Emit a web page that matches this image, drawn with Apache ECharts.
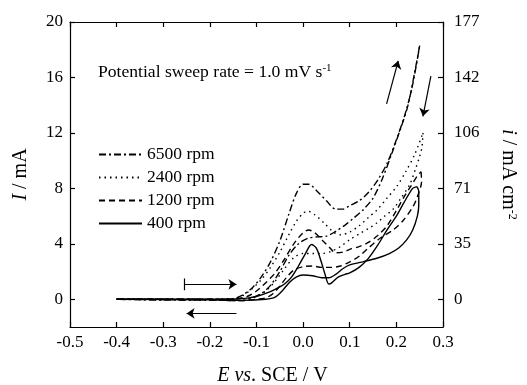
<!DOCTYPE html>
<html>
<head>
<meta charset="utf-8">
<script src="https://cdn.jsdelivr.net/npm/echarts@6/dist/echarts.min.js"></script>
<style>html,body{margin:0;padding:0;background:#fff}#c{width:527px;height:385px}</style>
</head>
<body>
<div id="c"></div>
<script>
// ---- data (E vs SCE / V, I / mA) ----
const rpmNames = ['6500 rpm', '2400 rpm', '1200 rpm', '400 rpm'];
const xTickLabelsRange = [-0.5, 0.3];
const leftTicks = [0, 4, 8, 12, 16, 20];
const leftTickLabels = ['0', '4', '8', '12', '16', '20'];
const rightTickLabels = ['0', '35', '71', '106', '142', '177'];

const fwd6500 = [[-0.40,0],[-0.20,0],[-0.15,0.05],[-0.13,0.3],[-0.11,0.8],[-0.09,1.6],[-0.07,2.7],[-0.05,4.2],[-0.03,6.2],[-0.015,7.6],[0.0,8.3],[0.012,8.3],[0.03,7.8],[0.05,7.1],[0.07,6.5],[0.085,6.5],[0.1,6.75],[0.12,7.1],[0.14,7.7],[0.16,8.6],[0.18,9.8],[0.2,11.5],[0.22,13.5],[0.235,15.5],[0.25,18.3]];
const bwd6500 = [[0.25,18.3],[0.24,16.5],[0.225,14.0],[0.21,12.4],[0.19,10.5],[0.17,8.7],[0.15,7.3],[0.13,6.5],[0.11,5.9],[0.09,5.35],[0.07,4.9],[0.05,4.55],[0.03,4.5],[0.01,4.4],[-0.01,4.0],[-0.03,3.2],[-0.05,2.0],[-0.07,1.0],[-0.09,0.4],[-0.11,0.1],[-0.13,-0.1],[-0.2,-0.05],[-0.3,-0.05],[-0.4,0]];
const fwd2400 = [[-0.40,0],[-0.20,0],[-0.15,0.05],[-0.13,0.25],[-0.11,0.75],[-0.09,1.4],[-0.07,2.3],[-0.05,3.4],[-0.03,4.7],[-0.015,5.6],[0.0,6.2],[0.01,6.35],[0.025,6.1],[0.045,5.5],[0.065,4.85],[0.08,4.65],[0.1,4.85],[0.12,5.3],[0.14,5.9],[0.16,6.5],[0.18,7.3],[0.2,8.1],[0.22,9.2],[0.24,10.5],[0.257,12.0]];
const bwd2400 = [[0.257,12.0],[0.255,11.0],[0.25,10.3],[0.24,9.3],[0.229,8.3],[0.21,7.3],[0.193,6.5],[0.175,6.0],[0.158,5.5],[0.14,5.1],[0.122,4.75],[0.1,4.3],[0.08,3.8],[0.06,3.45],[0.04,3.3],[0.02,3.3],[0.0,3.3],[-0.02,3.0],[-0.04,2.2],[-0.06,1.3],[-0.08,0.6],[-0.1,0.2],[-0.12,0.0],[-0.14,-0.1],[-0.2,-0.05],[-0.4,0]];
const fwd1200 = [[-0.40,0],[-0.20,0],[-0.15,0.02],[-0.12,0.2],[-0.1,0.6],[-0.08,1.2],[-0.06,1.9],[-0.04,2.9],[-0.02,4.0],[0.0,4.8],[0.012,5.0],[0.025,4.8],[0.04,4.3],[0.055,3.8],[0.07,3.35],[0.085,3.4],[0.1,3.6],[0.12,3.8],[0.14,4.1],[0.16,4.6],[0.18,5.3],[0.2,6.4],[0.215,7.3],[0.23,8.1],[0.245,8.9],[0.253,9.2]];
const bwd1200 = [[0.253,9.2],[0.254,8.5],[0.245,7.4],[0.236,6.7],[0.215,5.7],[0.193,5.0],[0.165,4.4],[0.14,3.7],[0.12,3.1],[0.1,2.7],[0.08,2.4],[0.06,2.3],[0.04,2.3],[0.02,2.4],[0.0,2.35],[-0.02,2.1],[-0.035,1.6],[-0.05,0.95],[-0.065,0.4],[-0.08,0.1],[-0.1,0.0],[-0.13,-0.1],[-0.2,-0.05],[-0.4,0]];
const fwd400 = [[-0.40,0],[-0.20,0],[-0.14,0.02],[-0.12,0.08],[-0.1,0.2],[-0.08,0.42],[-0.06,0.72],[-0.04,1.1],[-0.025,1.6],[-0.01,2.4],[0.005,3.3],[0.018,3.95],[0.028,3.7],[0.038,2.8],[0.047,1.8],[0.055,1.1],[0.062,1.2],[0.075,1.6],[0.09,1.8],[0.1,1.9],[0.12,2.3],[0.14,2.95],[0.16,3.9],[0.18,5.0],[0.2,6.0],[0.215,6.9],[0.235,8.0],[0.244,8.13]];
const bwd400 = [[0.244,8.13],[0.248,7.8],[0.248,6.8],[0.245,6.0],[0.235,5.0],[0.222,4.28],[0.205,3.7],[0.185,3.3],[0.158,2.96],[0.13,2.72],[0.1,2.48],[0.085,2.2],[0.07,1.8],[0.055,1.55],[0.04,1.55],[0.02,1.7],[0.0,1.75],[-0.015,1.6],[-0.03,1.2],[-0.045,0.6],[-0.06,0.15],[-0.08,0.0],[-0.13,-0.08],[-0.2,-0.03],[-0.4,0]];

// sweep-direction arrows [start, end] in data coordinates
const arrowFwd = [[-0.255, 1.08], [-0.143, 1.08]];
const arrowFwdBar = [[-0.256, 0.65], [-0.256, 1.5]];
const arrowBwd = [[-0.143, -1.02], [-0.25, -1.02]];
const arrowUp = [[0.179, 14.1], [0.204, 17.2]];
const arrowDown = [[0.274, 16.1], [0.257, 13.2]];

const FONT = '"Liberation Serif", "Times New Roman", serif';
const dashes = { '6500 rpm': [7, 3, 2, 3], '2400 rpm': [1.5, 4], '1200 rpm': [6, 4], '400 rpm': 'solid' };
const curves = [
  ['6500 rpm', fwd6500], ['6500 rpm', bwd6500],
  ['2400 rpm', fwd2400], ['2400 rpm', bwd2400],
  ['1200 rpm', fwd1200], ['1200 rpm', bwd1200],
  ['400 rpm', fwd400], ['400 rpm', bwd400]
];

const series = curves.map(([name, data]) => ({
  name: name,
  type: 'line',
  data: data,
  smooth: 0.3,
  symbol: 'none',
  lineStyle: { color: '#000', width: 1.4, type: dashes[name] },
  itemStyle: { color: '#000' },
  z: 3
}));

function ml(pair, sym) {
  return [{ coord: pair[0], symbol: 'none' }, { coord: pair[1], symbol: sym }];
}
series.push({
  name: 'arrows',
  type: 'line',
  data: [],
  symbol: 'none',
  markLine: {
    silent: true,
    animation: false,
    symbol: ['none', 'arrow'],
    symbolSize: 8,
    label: { show: false },
    lineStyle: { color: '#000', width: 1.2, type: 'solid' },
    emphasis: { disabled: true },
    data: [ml(arrowFwd, 'arrow'), ml(arrowFwdBar, 'none'), ml(arrowBwd, 'arrow'), ml(arrowUp, 'arrow'), ml(arrowDown, 'arrow')]
  }
});

const axisCommon = {
  axisLine: { show: true, onZero: false, lineStyle: { color: '#000', width: 1.2 } },
  axisTick: { show: true, inside: true, length: 5, lineStyle: { color: '#000', width: 1.2 } },
  splitLine: { show: false }
};

const option = {
  animation: false,
  backgroundColor: '#fff',
  textStyle: { fontFamily: FONT },
  grid: { left: 70, right: 84, top: 22, bottom: 58, outerBoundsMode: 'none', containLabel: false },
  legend: {
    data: rpmNames,
    orient: 'vertical',
    left: 98,
    top: 145,
    padding: 0,
    itemWidth: 43,
    itemHeight: 16,
    itemGap: 4,
    itemStyle: { opacity: 0 },
    textStyle: { fontFamily: FONT, fontSize: 17.5, lineHeight: 19, color: '#000' },
    selectedMode: false
  },
  xAxis: [
    Object.assign({}, axisCommon, {
      type: 'value', min: xTickLabelsRange[0], max: xTickLabelsRange[1], interval: 0.1,
      position: 'bottom',
      axisLabel: { fontFamily: FONT, fontSize: 17, color: '#000', margin: 7,
        formatter: v => (Math.abs(v) < 1e-9 ? 0 : v).toFixed(1) },
      name: '{i|E vs}{n|. SCE / V}',
      nameLocation: 'middle', nameGap: 39,
      nameTextStyle: { fontFamily: FONT, fontSize: 20, color: '#000', padding: [0, 0, 0, 32],
        rich: { i: { fontFamily: FONT, fontSize: 20, fontStyle: 'italic', color: '#000' },
                n: { fontFamily: FONT, fontSize: 20, color: '#000' } } }
    }),
    Object.assign({}, axisCommon, {
      type: 'value', min: xTickLabelsRange[0], max: xTickLabelsRange[1], interval: 0.1,
      position: 'top', axisLabel: { show: false }
    })
  ],
  yAxis: [
    Object.assign({}, axisCommon, {
      type: 'value', min: -2, max: 20, position: 'left',
      axisTick: Object.assign({}, axisCommon.axisTick, { customValues: leftTicks }),
      axisLabel: { customValues: leftTicks, fontFamily: FONT, fontSize: 17, color: '#000', margin: 7,
        formatter: v => leftTickLabels[leftTicks.indexOf(Math.round(v))] },
      name: '{i|I}{n| / mA}',
      nameLocation: 'middle', nameGap: 39,
      nameTextStyle: { fontFamily: FONT, fontSize: 20, color: '#000',
        rich: { i: { fontFamily: FONT, fontSize: 20, fontStyle: 'italic', color: '#000' },
                n: { fontFamily: FONT, fontSize: 20, color: '#000' } } }
    }),
    Object.assign({}, axisCommon, {
      type: 'value', min: -2, max: 20, position: 'right',
      axisTick: Object.assign({}, axisCommon.axisTick, { customValues: leftTicks }),
      axisLabel: { customValues: leftTicks, fontFamily: FONT, fontSize: 17, color: '#000', margin: 11,
        formatter: v => rightTickLabels[leftTicks.indexOf(Math.round(v))] },
      name: '{i|i}{n| / mA cm}{s|-2}',
      nameLocation: 'middle', nameGap: 55, nameRotate: -90,
      nameTextStyle: { fontFamily: FONT, fontSize: 20, color: '#000',
        rich: { i: { fontFamily: FONT, fontSize: 20, fontStyle: 'italic', color: '#000' },
                n: { fontFamily: FONT, fontSize: 20, color: '#000' },
                s: { fontFamily: FONT, fontSize: 12, color: '#000', verticalAlign: 'top', padding: [0, 0, 8, 0] } } }
    })
  ],
  graphic: [{
    type: 'text',
    left: 98,
    top: 63,
    style: {
      text: '{n|Potential sweep rate = 1.0 mV s}{s|-1}',
      fill: '#000',
      rich: {
        n: { fontFamily: FONT, fontSize: 17.6, fill: '#000' },
        s: { fontFamily: FONT, fontSize: 11, fill: '#000', verticalAlign: 'top', padding: [0, 0, 8, 0] }
      }
    }
  }],
  series: series
};

const chart = echarts.init(document.getElementById('c'), null, { renderer: 'canvas' });
chart.setOption(option);
</script>
</body>
</html>
